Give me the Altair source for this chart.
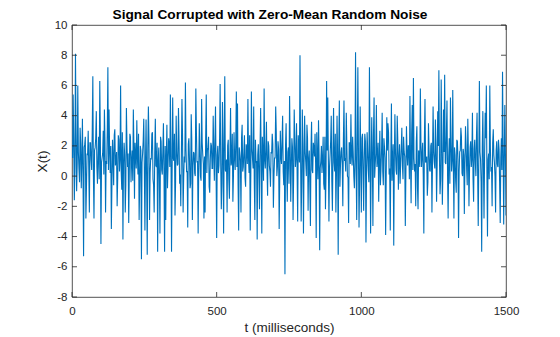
import altair as alt
import pandas as pd

# sampling step of the recorded signal (ms)
step_ms = 2

# X(t) values, in time order (6 segments of ~250 ms).
# "peak" lists hold the excursions, "core" lists the samples of the dense band between them.
x_seg1 = [1.8, 5.4, -1.6, 8.1, -1.0, 6.0, 0.5, 3.2, -0.8, 3.8, -5.3, 2.1, -2.8, 1.5, 3.0, -2.4,
          2.2, 0.4, 6.6, -2.8, 1.9, 4.3, -0.5, 2.6, 6.3, -4.5, 1.2, 3.0, 4.4, -2.4, 0.8, 7.2,
          4.4, 0.2, -3.5, 2.4, -0.6, 3.1, 1.0, -2.0, 2.7, 0.3, 6.0, -0.9, -4.2, 2.2, -2.4, 4.5,
          0.6, -3.1, 2.8, -0.4, 1.7, 4.4, -1.5, 1.3, 3.7, 0.1, -2.9, 2.0, -5.5, 1.5, 3.8]
x_seg2 = [-3.6, 3.75, -5.2, 4.6, -2.9, 1.2, 2.8, -0.2, -2.4, 3.8, 0.6, -5.0, 1.9, -3.8, 2.3, 0.1,
          3.5, -5.0, -2.9, 3.4, 0.8, 2.0, 5.4, -5.0, 5.2, 1.0, -2.6, 4.0, 0.7, 4.5, -0.5, -2.0,
          5.1, -2.4, 1.3, 6.2, 0.3, -3.4, 2.5, -0.8, 4.1, -2.9, 1.6, 0.2, 5.8, 0.9, -3.8, 3.5,
          0.0, 5.1, 1.4, -2.8, -2.4, 5.4, 1.7, 2.6, -1.1, 2.2, 0.5, 4.0, -0.3, 4.6]
x_seg3 = [-4.1, 2.0, 0.7, 6.1, -2.2, 4.9, -3.8, 6.6, 0.3, -2.4, 2.4, -1.5, 4.5, 1.0, -1.7, 2.9,
          0.4, 5.6, 4.8, -3.6, 1.5, -2.4, 3.4, 0.6, 2.7, -0.7, 1.8, 5.1, 0.2, -3.6, 5.6, 1.1,
          4.6, -2.9, 0.9, -4.2, 2.1, -2.2, 4.5, -3.8, 1.4, 5.8, 0.5, 3.6, -1.3, 2.0, 0.3, 1.6,
          2.8, -2.1, 1.2, 4.6, 0.0, 2.3, -3.5, 3.0, 0.8, 4.0, -0.6, -6.5, 3.5, -1.7, 1.9, 5.3]
x_seg4 = [-1.7, 2.5, -2.9, 4.4, 0.6, 3.5, -3.0, 1.8, 8.0, -3.0, 4.4, -3.8, 4.0, 0.9, 3.4, -2.3,
          1.7, -3.3, 3.6, 0.2, 1.9, 2.8, -4.1, 1.2, 3.7, -4.9, 1.0, 0.2, 2.6, -0.9, -2.2, 6.3,
          5.2, -3.0, 1.4, 4.0, -2.3, 4.5, 0.3, -2.4, 4.0, -5.2, 5.0, 0.8, 1.9, -2.0, 5.0, 1.2,
          4.2, 0.0, -3.1, 2.2, 4.1, 0.7, 1.5, -0.8, 8.2, -2.9, 7.2, -3.4, 4.6, -2.4, 2.8]
x_seg5 = [-2.3, 2.8, -4.4, 2.9, 0.4, 7.2, -3.8, 3.9, -3.3, 5.2, 0.8, 4.7, 1.2, -1.7, 3.0, 0.5,
          4.2, -0.6, 1.9, -3.9, 3.9, 3.5, 0.1, -3.6, 4.8, 1.0, -4.6, 4.1, 0.4, 4.0, -0.9, 2.1,
          0.9, 3.2, -0.2, 1.6, -3.3, 3.3, 0.7, 2.0, 5.3, -1.8, 4.7, 6.5, 0.3, -2.0, 3.3, -2.2,
          1.4, 5.8, 0.6, 2.2, -3.8, 5.1, 1.0, -1.3, 3.5, 0.4, 2.0, -2.4, 4.6, 0.9, 3.75]
x_seg6 = [-1.7, 4.3, 7.0, -1.2, 6.4, -1.9, 4.4, 6.7, 0.8, 5.0, -2.8, 2.5, 5.2, 0.3, 5.7, -2.8,
          1.4, -1.1, 2.3, -4.1, 1.6, 3.2, 0.2, 1.8, -2.5, 3.3, 0.5, 3.8, -2.0, 1.9, 0.6, 4.2,
          -1.7, 2.4, 0.0, 4.2, -3.3, 6.3, 1.1, -5.0, 4.3, -2.8, 4.2, 6.0, -4.0, 1.5, 6.0, 0.3,
          -2.0, 3.1, 0.9, -2.4, 2.3, 0.6, 1.8, -3.1, 2.5, 6.9, -3.2, 4.7, -2.6]

core_seg1 = [1.2, 2.4, 0.3, 2.9, 0.8, 1.6, -0.4, 2.1, 1.0, 0.2, 1.9, 2.6, -0.7, 1.4, 0.5, 2.2,
             1.1, 3.0, 0.0, 1.7, 2.5, 0.6, 1.3, -0.2, 2.8, 0.9, 1.5, 0.1, 2.3, 1.0, 3.1, 0.4,
             1.8, 2.0, -0.5, 1.2, 2.7, 0.7, 1.6, -0.1, 2.4, 1.1, 0.3, 2.9, 0.8, 1.4, -0.6, 2.1,
             1.5, 0.2, 2.6, 1.0, -0.3, 1.9, 2.2, 0.5, 1.3, 2.8, -0.4, 1.7, 0.9, 2.3, 0.6]
core_seg2 = [0.9, -0.3, 1.8, 2.4, 0.2, 1.1, 2.9, -0.6, 1.5, 0.7, 2.2, 1.0, -0.2, 2.6, 0.4, 1.7,
             0.0, 2.0, 1.3, -0.8, 2.5, 0.6, 1.9, 0.2, 1.2, 2.8, -0.4, 1.6, 0.8, 2.3, 0.1, 1.4,
             2.7, -0.1, 0.9, 1.8, 0.3, 2.1, 1.1, -0.5, 2.4, 0.7, 1.5, 0.0, 2.9, 1.0, 0.4, 1.7,
             -0.3, 2.2, 0.8, 1.3, 2.6, 0.2, 1.9, -0.7, 1.1, 2.0, 0.5, 1.6, 2.3, 0.1]
core_seg3 = [1.4, 0.2, 2.3, 0.9, -0.5, 1.7, 2.6, 0.4, 1.1, 2.0, -0.2, 1.5, 0.7, 2.8, 0.0, 1.3,
             2.2, 0.6, -0.6, 1.9, 1.0, 2.5, 0.3, 1.6, -0.1, 2.1, 0.8, 1.2, 2.7, 0.1, 1.8, 0.5,
             -0.4, 2.4, 1.0, 1.4, 0.2, 2.0, 0.9, 2.6, -0.3, 1.1, 1.7, 0.4, 2.3, 0.7, -0.7, 1.5,
             2.1, 0.0, 1.2, 2.9, 0.6, 1.8, -0.2, 1.3, 2.4, 0.3, 1.0, 2.0, 0.5, 1.6, -0.5, 2.2]
core_seg4 = [0.6, 1.9, -0.1, 2.4, 1.2, 0.3, 2.7, 0.9, 1.5, -0.4, 2.1, 0.7, 1.6, 0.0, 2.5, 1.1,
             -0.6, 1.8, 0.4, 2.2, 1.3, 0.8, 2.9, -0.2, 1.4, 0.5, 2.0, 1.0, -0.5, 2.6, 0.2, 1.7,
             1.2, 0.6, 2.3, -0.3, 1.5, 0.9, 2.8, 0.1, 1.3, 2.0, -0.7, 1.6, 0.7, 2.4, 1.0, 0.3,
             1.9, -0.1, 2.2, 0.8, 1.4, 2.6, 0.0, 1.1, 0.5, 2.1, 1.7, -0.4, 1.2, 2.5, 0.4]
core_seg5 = [1.1, 2.3, 0.2, 1.6, -0.4, 2.0, 0.8, 1.3, 2.7, -0.1, 1.5, 0.6, 2.2, 1.0, -0.6, 1.8,
             0.3, 2.5, 1.2, 0.0, 1.7, 2.9, 0.5, 1.4, -0.3, 2.1, 0.9, 1.6, 0.1, 2.4, 1.1, -0.5,
             1.9, 0.7, 2.6, 1.3, 0.2, 1.5, 2.0, -0.2, 1.0, 2.8, 0.4, 1.2, 0.8, 2.3, -0.7, 1.7,
             0.6, 2.1, 1.4, 0.0, 2.5, 0.9, 1.3, -0.4, 1.8, 0.3, 2.2, 1.0, 1.6, 0.5, 2.0]
core_seg6 = [0.7, 2.0, 1.2, -0.2, 2.5, 0.4, 1.6, 0.9, 2.8, 0.1, 1.3, -0.5, 2.2, 1.0, 0.6, 1.9,
             -0.3, 2.4, 1.1, 0.3, 1.7, 2.6, 0.0, 1.4, 0.8, 2.1, -0.6, 1.5, 0.5, 2.3, 1.2, -0.1,
             1.8, 0.9, 2.7, 0.2, 1.0, 1.6, -0.4, 2.0, 0.7, 1.3, 2.5, 0.3, 1.1, -0.2, 1.9, 0.6,
             2.2, 1.4, 0.0, 1.7, 0.8, 2.4, -0.5, 1.2, 0.4, 2.0, 1.0, 1.5]

x_ticks = [0, 500, 1000, 1500]
y_ticks = [-8, -6, -4, -2, 0, 2, 4, 6, 8, 10]

# merge each segment's excursion samples with its band samples, in time order
values = []
for peaks, core in [(x_seg1, core_seg1), (x_seg2, core_seg2), (x_seg3, core_seg3),
                    (x_seg4, core_seg4), (x_seg5, core_seg5), (x_seg6, core_seg6)]:
    for k, p in enumerate(peaks):
        values.append(p)
        if k < len(core):
            values.append(core[k])
t_ms = [i * step_ms for i in range(len(values))]

df = pd.DataFrame({"t": t_ms, "X": values})
xt_df = pd.DataFrame({"v": x_ticks})
yt_df = pd.DataFrame({"v": y_ticks})

W, H = 434, 272
FONT = "Liberation Sans"
INK = "#262626"

xs = alt.Scale(domain=[0, 1500], nice=False, zero=False)
ys = alt.Scale(domain=[-8, 10], nice=False, zero=False)

x_axis = alt.Axis(values=x_ticks, title="t (milliseconds)", labelPadding=8,
                  labelExpr="'' + datum.value", labelFlush=False, titlePadding=4)
y_axis = alt.Axis(values=y_ticks, title="X(t)", labelPadding=5,
                  labelExpr="'' + datum.value", labelFlush=False,
                  titleX=-30, titleBaseline="middle")

line = alt.Chart(df).mark_line(color="#0072BD", strokeWidth=1.1, clip=True).encode(
    x=alt.X("t:Q", scale=xs, axis=x_axis),
    y=alt.Y("X:Q", scale=ys, axis=y_axis),
)

tick_style = dict(color=INK, strokeWidth=0.8)
left_ticks = alt.Chart(yt_df).mark_rule(**tick_style).encode(
    y=alt.Y("v:Q", scale=ys, axis=y_axis), x=alt.value(0), x2=alt.value(5))
right_ticks = alt.Chart(yt_df).mark_rule(**tick_style).encode(
    y=alt.Y("v:Q", scale=ys, axis=y_axis), x=alt.value(W - 5), x2=alt.value(W))
bottom_ticks = alt.Chart(xt_df).mark_rule(**tick_style).encode(
    x=alt.X("v:Q", scale=xs, axis=x_axis), y=alt.value(H - 5), y2=alt.value(H))
top_ticks = alt.Chart(xt_df).mark_rule(**tick_style).encode(
    x=alt.X("v:Q", scale=xs, axis=x_axis), y=alt.value(0), y2=alt.value(5))

chart = alt.layer(line, left_ticks, right_ticks, bottom_ticks, top_ticks).properties(
    width=W, height=H,
    title=alt.TitleParams("Signal Corrupted with Zero-Mean Random Noise", font=FONT,
                          fontSize=13.7, fontWeight="bold", color="#000000", dx=-19,
                          dy=9, offset=6, frame="group"),
    autosize=alt.AutoSizeParams(type="none"),
    padding={"left": 72, "top": 25, "right": 54, "bottom": 40},
    background="white",
).configure_view(
    stroke=INK, strokeWidth=0.8
).configure_axis(
    labelFont=FONT, labelFontSize=11.5, labelColor=INK,
    titleFont=FONT, titleFontSize=13.5, titleFontWeight="normal", titleColor=INK,
    domain=False, ticks=False, grid=False,
)

chart.save("out.html", embed_options={"renderer": "svg", "actions": False})
